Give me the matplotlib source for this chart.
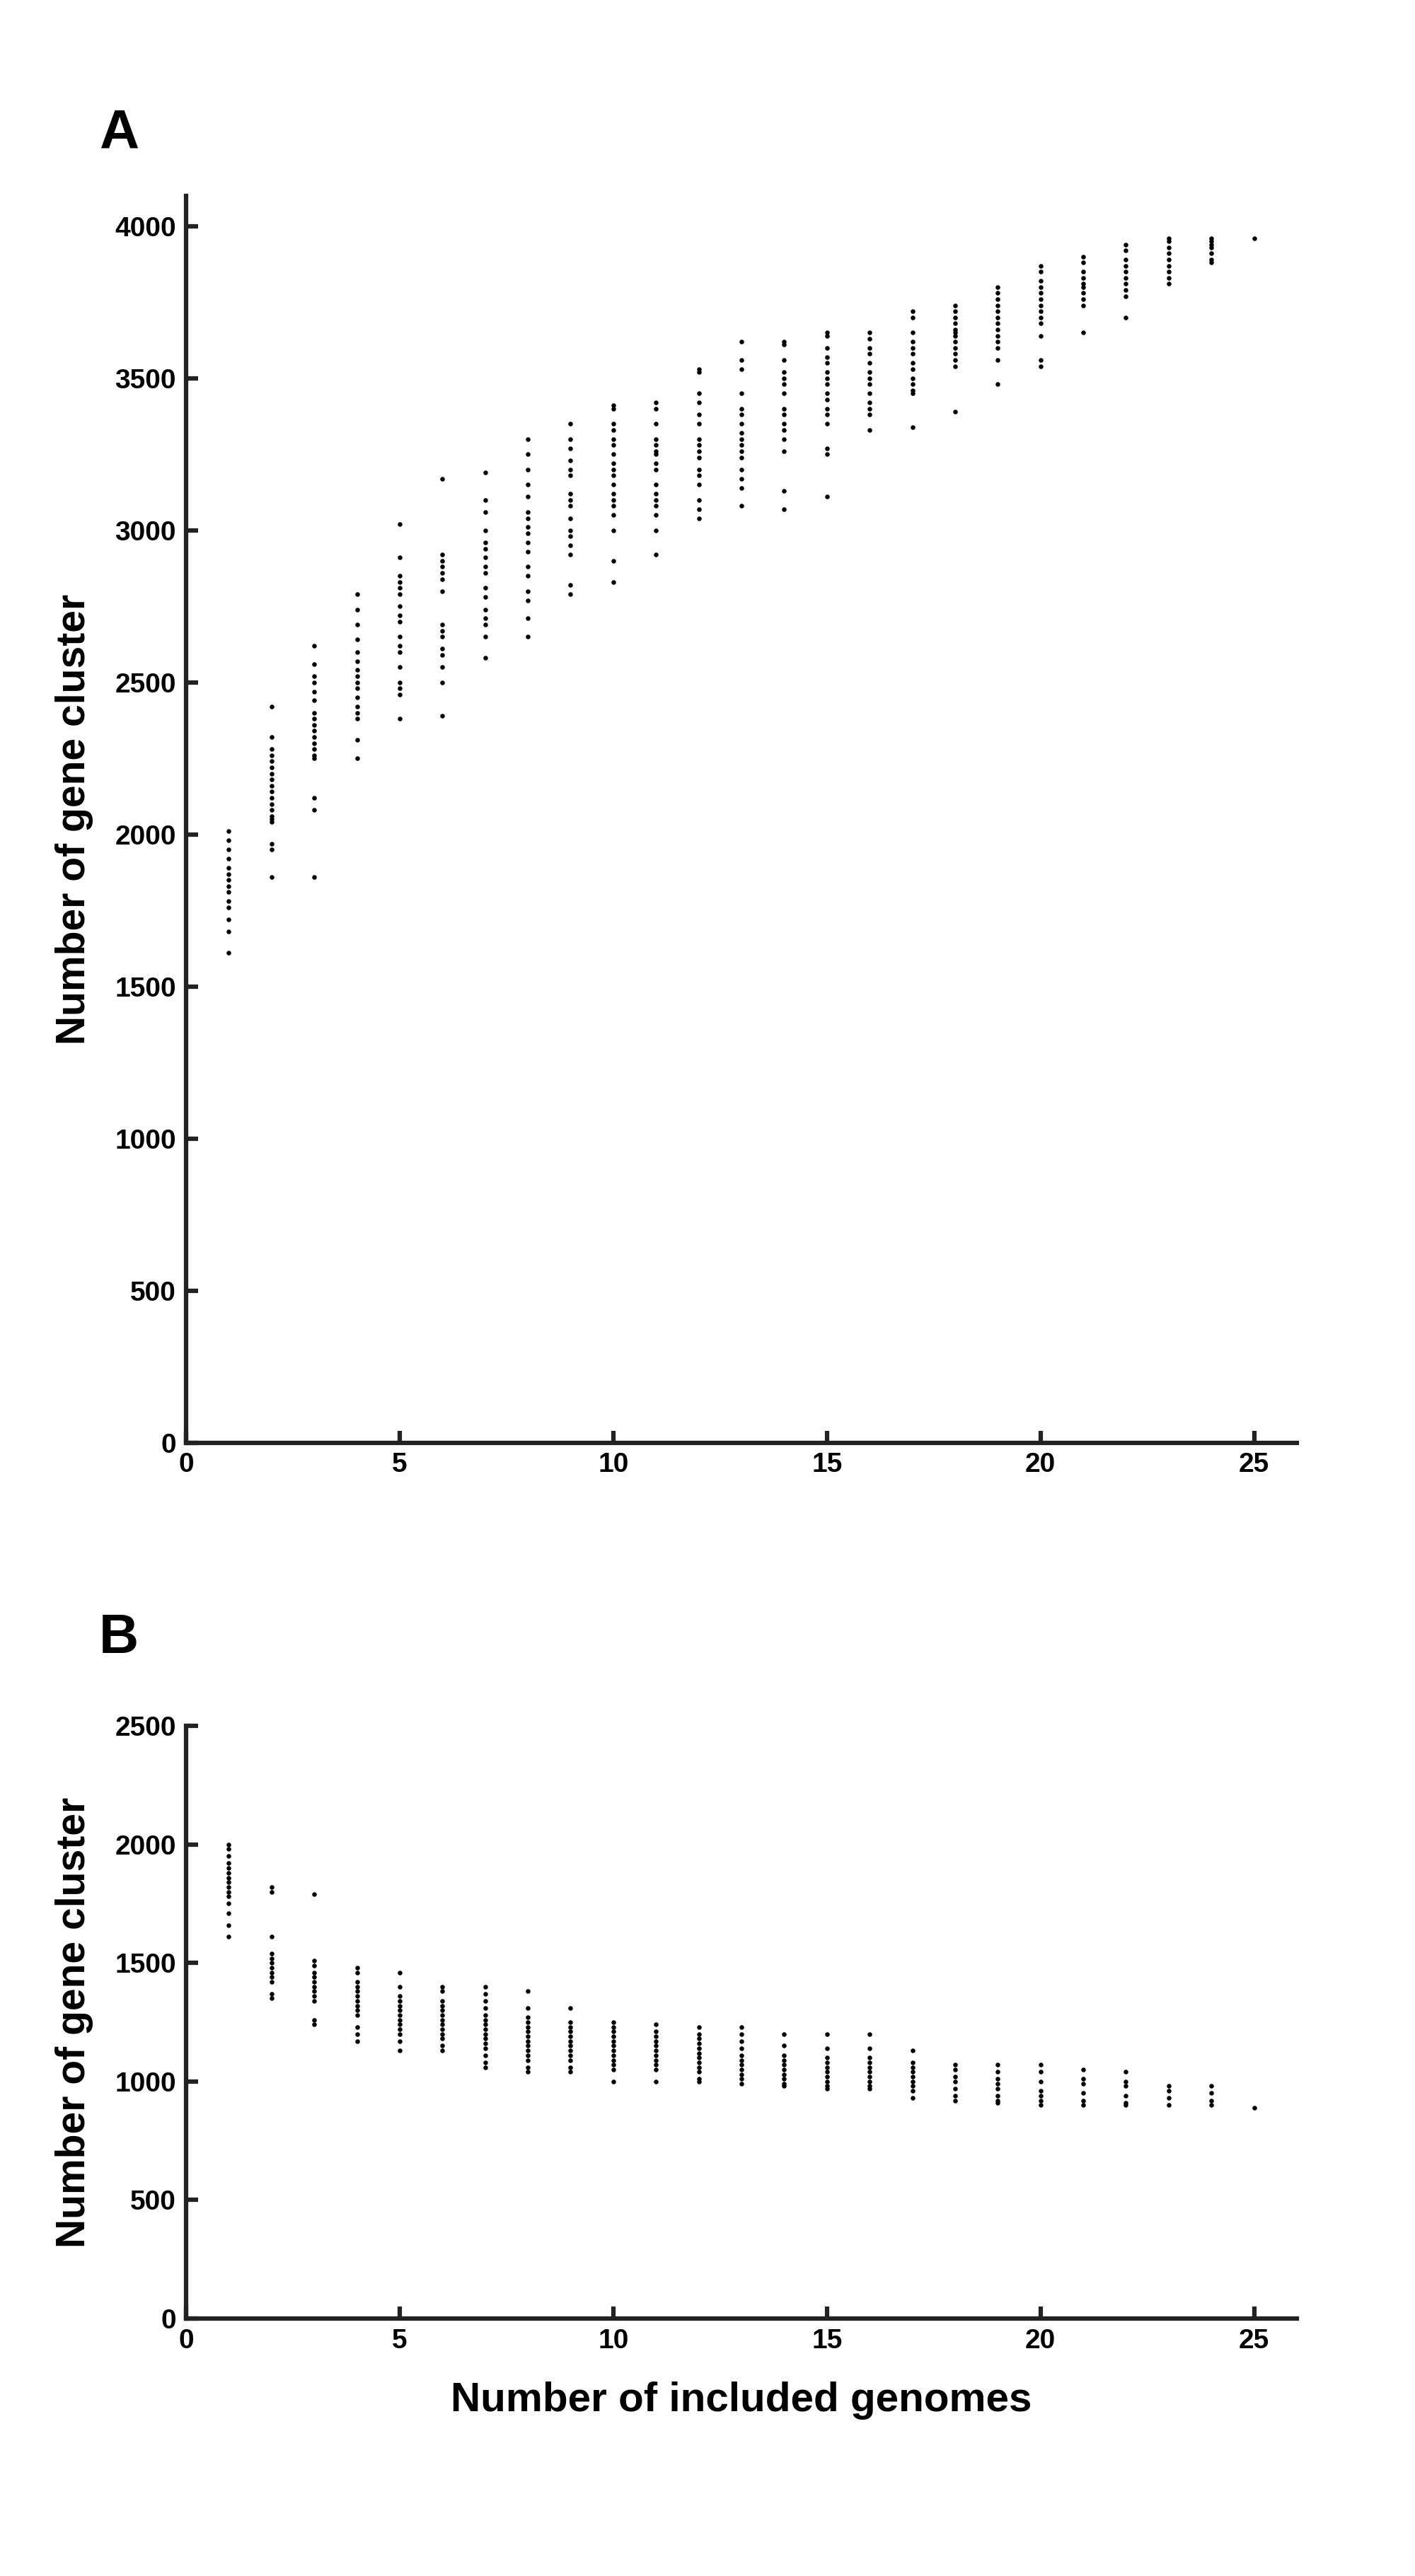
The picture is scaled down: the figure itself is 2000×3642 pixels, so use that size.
import matplotlib
matplotlib.use('Agg')
import matplotlib.pyplot as plt

plt.rcParams['font.family'] = ['Liberation Sans', 'DejaVu Sans']
plt.rcParams['font.weight'] = 'bold'

# Panel A: pan-genome size per number of included genomes
pan_values = {
    1: [2010, 1980, 1950, 1920, 1890, 1870, 1850, 1830, 1810, 1780, 1760, 1720, 1680, 1610],
    2: [2420, 2320, 2280, 2260, 2240, 2220, 2200, 2180, 2160, 2140, 2120, 2100, 2080, 2060, 2050, 2040, 1970, 1950, 1860],
    3: [2620, 2560, 2520, 2500, 2470, 2440, 2400, 2380, 2360, 2340, 2320, 2300, 2280, 2260, 2250, 2120, 2080, 1860],
    4: [2790, 2740, 2690, 2640, 2600, 2570, 2540, 2520, 2500, 2480, 2450, 2420, 2400, 2380, 2310, 2250],
    5: [3020, 2910, 2850, 2830, 2810, 2790, 2750, 2720, 2700, 2650, 2620, 2600, 2550, 2500, 2480, 2460, 2380],
    6: [3170, 2920, 2900, 2880, 2860, 2840, 2800, 2690, 2670, 2650, 2610, 2590, 2550, 2500, 2390],
    7: [3190, 3100, 3060, 3000, 2960, 2940, 2910, 2880, 2860, 2810, 2780, 2740, 2710, 2690, 2650, 2580],
    8: [3300, 3250, 3200, 3150, 3110, 3060, 3040, 3010, 2990, 2960, 2930, 2880, 2850, 2800, 2770, 2710, 2650],
    9: [3350, 3300, 3270, 3230, 3200, 3180, 3120, 3100, 3080, 3040, 3000, 2980, 2950, 2920, 2820, 2790],
    10: [3410, 3400, 3350, 3330, 3300, 3280, 3250, 3220, 3200, 3180, 3150, 3120, 3100, 3080, 3050, 3000, 2900, 2830],
    11: [3420, 3400, 3350, 3300, 3280, 3260, 3250, 3220, 3200, 3150, 3120, 3100, 3080, 3050, 3000, 2920],
    12: [3530, 3520, 3450, 3420, 3380, 3350, 3300, 3280, 3260, 3240, 3200, 3180, 3150, 3100, 3070, 3040],
    13: [3620, 3560, 3530, 3450, 3400, 3380, 3350, 3320, 3300, 3280, 3260, 3240, 3200, 3170, 3140, 3080],
    14: [3620, 3610, 3560, 3520, 3500, 3480, 3450, 3400, 3380, 3350, 3330, 3300, 3260, 3130, 3070],
    15: [3650, 3640, 3600, 3570, 3550, 3520, 3500, 3480, 3450, 3430, 3400, 3380, 3350, 3270, 3250, 3110],
    16: [3650, 3630, 3600, 3580, 3550, 3520, 3500, 3480, 3450, 3420, 3400, 3380, 3330],
    17: [3720, 3700, 3650, 3620, 3600, 3580, 3550, 3530, 3500, 3480, 3460, 3450, 3340],
    18: [3740, 3720, 3700, 3680, 3660, 3650, 3640, 3620, 3600, 3580, 3560, 3540, 3390],
    19: [3800, 3780, 3760, 3740, 3720, 3700, 3680, 3660, 3640, 3620, 3600, 3560, 3480],
    20: [3870, 3850, 3820, 3800, 3780, 3760, 3740, 3720, 3700, 3680, 3640, 3560, 3540],
    21: [3900, 3880, 3850, 3830, 3810, 3800, 3780, 3760, 3740, 3650],
    22: [3940, 3920, 3890, 3870, 3850, 3830, 3810, 3790, 3770, 3700],
    23: [3960, 3950, 3930, 3910, 3890, 3870, 3850, 3830, 3810],
    24: [3960, 3950, 3940, 3930, 3910, 3890, 3880],
    25: [3960],
}

# Panel B: core-genome size per number of included genomes
core_values = {
    1: [2000, 1980, 1950, 1920, 1900, 1880, 1860, 1840, 1820, 1800, 1780, 1750, 1710, 1660, 1610],
    2: [1820, 1800, 1610, 1540, 1520, 1500, 1480, 1460, 1440, 1420, 1370, 1350],
    3: [1790, 1510, 1490, 1460, 1440, 1420, 1400, 1380, 1360, 1340, 1260, 1240],
    4: [1480, 1460, 1420, 1400, 1380, 1360, 1340, 1320, 1300, 1280, 1230, 1200, 1170],
    5: [1460, 1400, 1360, 1340, 1320, 1300, 1280, 1260, 1240, 1220, 1200, 1170, 1130],
    6: [1400, 1380, 1340, 1320, 1300, 1280, 1260, 1240, 1220, 1200, 1180, 1150, 1130],
    7: [1400, 1370, 1340, 1310, 1280, 1260, 1240, 1220, 1200, 1180, 1160, 1140, 1110, 1080, 1060],
    8: [1380, 1310, 1270, 1250, 1230, 1210, 1190, 1170, 1150, 1130, 1110, 1090, 1060, 1040],
    9: [1310, 1250, 1230, 1210, 1190, 1170, 1150, 1130, 1110, 1090, 1060, 1040],
    10: [1250, 1230, 1210, 1190, 1170, 1150, 1130, 1110, 1090, 1070, 1050, 1000],
    11: [1240, 1210, 1190, 1170, 1150, 1130, 1110, 1090, 1070, 1050, 1000],
    12: [1230, 1200, 1180, 1160, 1140, 1120, 1100, 1080, 1060, 1040, 1010, 1000],
    13: [1230, 1200, 1170, 1140, 1110, 1090, 1070, 1050, 1030, 1010, 990],
    14: [1200, 1150, 1110, 1090, 1070, 1050, 1030, 1010, 990, 980],
    15: [1200, 1140, 1100, 1080, 1060, 1040, 1020, 1000, 980, 970],
    16: [1200, 1140, 1100, 1080, 1060, 1040, 1020, 1000, 980, 970],
    17: [1130, 1080, 1060, 1040, 1020, 1000, 980, 960, 930],
    18: [1070, 1050, 1020, 1000, 970, 940, 920],
    19: [1070, 1040, 1010, 990, 970, 940, 920, 910],
    20: [1070, 1040, 1000, 960, 940, 920, 900],
    21: [1050, 1010, 990, 950, 920, 900],
    22: [1040, 1000, 980, 940, 910, 900],
    23: [980, 960, 930, 900],
    24: [980, 950, 920, 900],
    25: [890],
}


def flatten(d):
    xs, ys = [], []
    for k, vals in d.items():
        xs += [k] * len(vals)
        ys += vals
    return xs, ys


def style_axis(ax, ymax, yticks):
    ax.set_xlim(0, 26)
    ax.set_ylim(0, ymax)
    ax.set_xticks([0, 5, 10, 15, 20, 25])
    ax.set_yticks(yticks)
    for s in ['top', 'right']:
        ax.spines[s].set_visible(False)
    for s in ['left', 'bottom']:
        ax.spines[s].set_linewidth(4.5)
        ax.spines[s].set_color('#222222')
    ax.tick_params(direction='in', length=12, width=4.5, labelsize=28, color='#222222', pad=10)
    for lab in ax.get_xticklabels() + ax.get_yticklabels():
        lab.set_fontweight('bold')
    ax.set_ylabel('Number of gene cluster', fontsize=41, fontweight='bold', labelpad=22)


fig = plt.figure(figsize=(20, 36.42), dpi=100)

ax1 = fig.add_axes([0.1315, 0.44, 0.785, 0.484])
x, y = flatten(pan_values)
ax1.scatter(x, y, s=22, color='black', linewidths=0)
style_axis(ax1, 4100, [0, 500, 1000, 1500, 2000, 2500, 3000, 3500, 4000])
fig.text(0.07, 0.958, 'A', fontsize=56, fontweight='bold', va='top')

ax2 = fig.add_axes([0.1315, 0.1, 0.785, 0.23])
x, y = flatten(core_values)
ax2.scatter(x, y, s=22, color='black', linewidths=0)
style_axis(ax2, 2500, [0, 500, 1000, 1500, 2000, 2500])
ax2.set_xlabel('Number of included genomes', fontsize=42, fontweight='bold', labelpad=28)
fig.text(0.07, 0.374, 'B', fontsize=56, fontweight='bold', va='top')

fig.savefig('out.png', dpi=100, facecolor='white')
